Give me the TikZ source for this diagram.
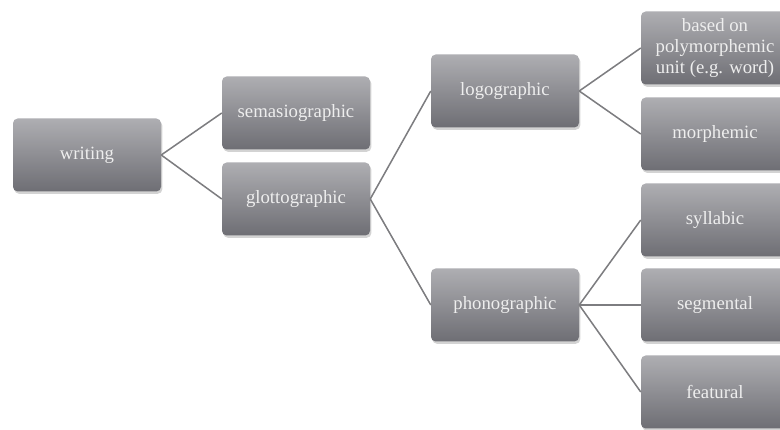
\documentclass[tikz,border=0pt]{standalone}
\usepackage{fontspec}
\setmainfont{Liberation Serif}
\usetikzlibrary{shadows}
\definecolor{boxTop}{RGB}{174,174,178}
\definecolor{boxBottom}{RGB}{110,110,116}
\definecolor{boxText}{RGB}{238,238,238}
\definecolor{linkGray}{RGB}{125,125,128}
\newcommand{\boxWidth}{4.44cm}
\newcommand{\boxHeight}{2.19cm}

\begin{document}
\begin{tikzpicture}[
      box/.style={rectangle, rounded corners=4pt, minimum width=\boxWidth,
         minimum height=\boxHeight, top color=boxTop, bottom color=boxBottom,
         draw=none, text=boxText, align=center, font=\fontsize{16}{18}\selectfont,
         drop shadow={opacity=0.35, shadow xshift=0.04cm, shadow yshift=-0.07cm}},
      link/.style={draw=linkGray, line width=1.3pt}]
   \useasboundingbox (0,0) rectangle (23.4,12.9);
   \clip (0,0) rectangle (23.4,12.9);

   % levels from left to right
   \node[box] (writing) at (2.61,8.25) {writing};

   \node[box] (sema)   at (8.88,9.51) {semasiographic};
   \node[box] (glotto) at (8.88,6.93) {glottographic};

   \node[box] (logo)  at (15.15,10.17) {logographic};
   \node[box] (phono) at (15.15,3.75) {phonographic};

   \node[box] (poly)  at (21.45,11.46) {based on\\polymorphemic\\unit (e.g. word)};
   \node[box] (morph) at (21.45,8.88) {morphemic};
   \node[box] (syll)  at (21.45,6.30) {syllabic};
   \node[box] (segm)  at (21.45,3.75) {segmental};
   \node[box] (feat)  at (21.45,1.14) {featural};

   \draw[link] (writing.east) -- (sema.west);
   \draw[link] (writing.east) -- (glotto.west);
   \draw[link] (glotto.east) -- (logo.west);
   \draw[link] (glotto.east) -- (phono.west);
   \foreach \child in {poly,morph}
   {%
      \draw[link] (logo.east) -- (\child.west);
   }
   \foreach \child in {syll,segm,feat}
   {%
      \draw[link] (phono.east) -- (\child.west);
   }
\end{tikzpicture}
\end{document}
